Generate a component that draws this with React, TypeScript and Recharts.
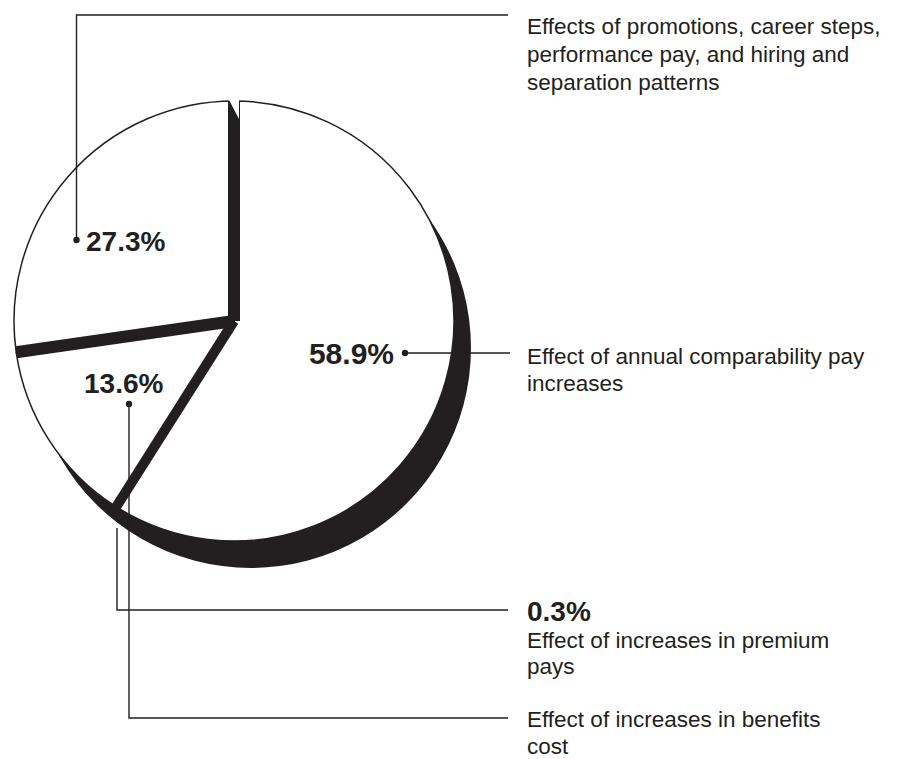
import React from "react";
import { PieChart, Pie, Cell } from "recharts";

// ---------- data ----------
const categories = [
  "Effect of annual comparability pay increases",
  "Effect of increases in premium pays",
  "Effect of increases in benefits cost",
  "Effects of promotions, career steps, performance pay, and hiring and separation patterns",
];
const shares = [58.9, 0.3, 13.6, 27.3];
const shareLabels = ["58.9%", "0.3%", "13.6%", "27.3%"];
const calloutLines = [
  ["Effect of annual comparability pay", "increases"],
  ["Effect of increases in premium", "pays"],
  ["Effect of increases in benefits", "cost"],
  ["Effects of promotions, career steps,", "performance pay, and hiring and", "separation patterns"],
];

const data = categories.map((name, i) => ({ name, value: shares[i] }));
const depthData = [{ name: "depth", value: 100 }];

// ---------- styles / layout ----------
const INK = "#231f20";
const W = 898;
const H = 759;
const CX = 234;
const CY = 321;
const R = 220;
const DEPTH_DX = 17;
const DEPTH_DY = 27;
const RAD = Math.PI / 180;
const FONT = "'Liberation Sans', Arial, Helvetica, sans-serif";
const TINY = 1; // slices under 1% drawn as solid ink

const polar = (cx: number, cy: number, r: number, a: number) => [
  cx + r * Math.cos(-a * RAD),
  cy + r * Math.sin(-a * RAD),
];

const Separators = (props: any) => {
  const { cx, cy, outerRadius, startAngle, midAngle, index } = props;
  const items: React.ReactNode[] = [];
  const thisTiny = shares[index] < TINY;
  const prevTiny = index > 0 && shares[index - 1] < TINY;
  if (thisTiny) {
    const [x, y] = polar(cx, cy, outerRadius, midAngle);
    items.push(
      <line key="m" x1={cx} y1={cy} x2={x} y2={y} stroke={INK} strokeWidth={10} />
    );
  } else if (!prevTiny) {
    const [x, y] = polar(cx, cy, outerRadius, startAngle);
    items.push(
      <line key="s" x1={cx} y1={cy} x2={x} y2={y} stroke={INK} strokeWidth={12} />
    );
    if (index === 0) {
      // small white notch where the depth face begins at the rim
      items.push(
        <polygon
          key="n"
          points={`${x - 6},${y - 3} ${x + 5},${y - 3} ${x + 5},${y + 18}`}
          fill="#fff"
        />
      );
    }
  }
  return <g key={`sep-${index}`}>{items}</g>;
};

export default function App() {
  const t = { fontFamily: FONT, fill: INK } as const;
  return (
    <div style={{ position: "absolute", left: 0, top: 0, width: W, height: H, background: "#fff" }}>
      <PieChart width={W} height={H} margin={{ top: 0, right: 0, bottom: 0, left: 0 }}>
        <Pie
          data={depthData}
          dataKey="value"
          cx={CX + DEPTH_DX}
          cy={CY + DEPTH_DY}
          outerRadius={R}
          startAngle={90}
          endAngle={-270}
          fill={INK}
          stroke="none"
          isAnimationActive={false}
        />
        <Pie
          data={data}
          dataKey="value"
          nameKey="name"
          cx={CX}
          cy={CY}
          outerRadius={R}
          startAngle={90}
          endAngle={-270}
          stroke={INK}
          strokeWidth={1.5}
          label={Separators}
          labelLine={false}
          isAnimationActive={false}
        >
          {data.map((d, i) => (
            <Cell key={d.name} fill={shares[i] < TINY ? INK : "#fff"} stroke={INK} />
          ))}
        </Pie>
      </PieChart>
      <svg
        width={W}
        height={H}
        style={{ position: "absolute", left: 0, top: 0, pointerEvents: "none" }}
      >
        {/* leader lines */}
        <g stroke={INK} strokeWidth={1.4} fill="none">
          <polyline points="76.5,240 76.5,15 508,15" />
          <polyline points="405,353 510,353" />
          <polyline points="129,404 129,718 508,718" />
          <polyline points="117,528 117,610 508,610" />
        </g>
        <g fill={INK}>
          <circle cx={76.5} cy={240} r={3.2} />
          <circle cx={405} cy={353} r={3.2} />
          <circle cx={129} cy={404} r={3.2} />
        </g>
        {/* percentage labels on the pie */}
        <text x={86} y={251} fontSize={28} fontWeight="bold" {...t}>{shareLabels[3]}</text>
        <text x={84} y={393} fontSize={28} fontWeight="bold" {...t}>{shareLabels[2]}</text>
        <text x={394} y={364} fontSize={30} fontWeight="bold" textAnchor="end" {...t}>{shareLabels[0]}</text>
        {/* callouts */}
        <text x={527} fontSize={22.5} {...t}>
          {calloutLines[3].map((l, i) => (
            <tspan key={i} x={527} y={34 + i * 28}>{l}</tspan>
          ))}
        </text>
        <text x={527} fontSize={22.5} {...t}>
          {calloutLines[0].map((l, i) => (
            <tspan key={i} x={527} y={364 + i * 27}>{l}</tspan>
          ))}
        </text>
        <text x={527} y={621} fontSize={28} fontWeight="bold" {...t}>{shareLabels[1]}</text>
        <text x={527} fontSize={22.5} {...t}>
          {calloutLines[1].map((l, i) => (
            <tspan key={i} x={527} y={648 + i * 26}>{l}</tspan>
          ))}
        </text>
        <text x={527} fontSize={22.5} {...t}>
          {calloutLines[2].map((l, i) => (
            <tspan key={i} x={527} y={727 + i * 27}>{l}</tspan>
          ))}
        </text>
      </svg>
    </div>
  );
}
